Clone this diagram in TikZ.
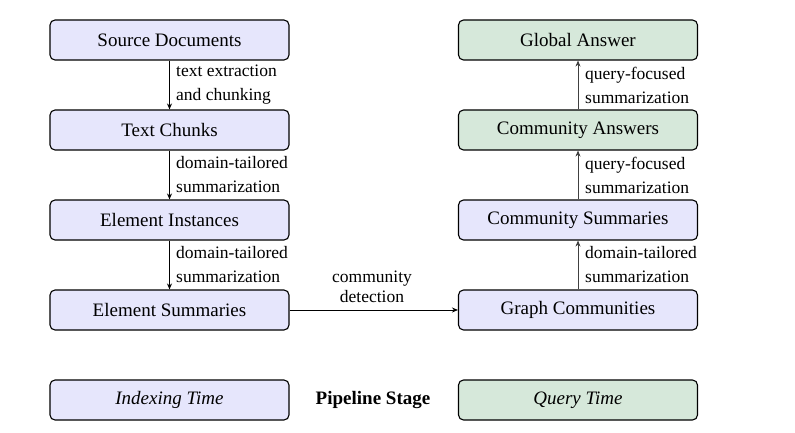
\documentclass[tikz,border=0pt]{standalone}
\usepackage{fontspec}
\setmainfont{Liberation Serif}
\usetikzlibrary{arrows.meta}
\definecolor{lav}{RGB}{230,230,252}
\definecolor{grn}{RGB}{214,232,218}
\tikzset{
  stagebox/.style={draw=black, line width=1.1pt, rounded corners=5pt, minimum width=239pt, minimum height=40pt, inner sep=0pt, font=\fontsize{19}{22}\selectfont},
  idx/.style={stagebox, fill=lav},
  qry/.style={stagebox, fill=grn},
  lbl/.style={font=\fontsize{17.5}{24}\selectfont, align=left, anchor=west, inner sep=0pt},
  downarr/.style={line width=1.2pt, -{Stealth[length=6pt,width=5pt]}},
  uparr/.style={line width=0.8pt, draw=black!75, -{Stealth[length=6pt,width=5pt]}},
}
\begin{document}
\begin{tikzpicture}[x=1pt,y=-1pt]
\useasboundingbox (0,0) rectangle (795,433);
% left column
\node[idx] (sd) at (169.5,40) {Source Documents};
\node[idx] (tc) at (169.5,130) {Text Chunks};
\node[idx] (ei) at (169.5,220) {Element Instances};
\node[idx] (es) at (169.5,310) {Element Summaries};
\node[idx] (it) at (169.5,400) {\itshape Indexing Time};
% right column
\node[qry] (ga) at (578,40) {Global Answer};
\node[qry] (ca) at (578,130) {Community Answers};
\node[idx] (cs) at (578,220) {Community Summaries};
\node[idx] (gc) at (578,310) {Graph Communities};
\node[qry] (qt) at (578,400) {\itshape Query Time};
\node[font=\fontsize{19}{22}\selectfont\bfseries] (ps) at (373,400) {Pipeline Stage};
% down arrows
\draw[downarr] (sd) -- (tc);
\draw[downarr] (tc) -- (ei);
\draw[downarr] (ei) -- (es);
\node[lbl] (l1) at (176,85) {text extraction\\and chunking};
\node[lbl] (l2) at (176,175) {domain-tailored\\summarization};
\node[lbl] (l3) at (176,265) {domain-tailored\\summarization};
% up arrows
\draw[uparr] (gc) -- (cs);
\draw[uparr] (cs) -- (ca);
\draw[uparr] (ca) -- (ga);
\node[lbl] (r1) at (585,85) {query-focused\\summarization};
\node[lbl] (r2) at (585,175) {query-focused\\summarization};
\node[lbl] (r3) at (585,265) {domain-tailored\\summarization};
% horizontal
\draw[downarr, line width=1pt] (es) -- (gc);
\node[font=\fontsize{17.5}{20}\selectfont, align=center] (cd) at (372,287) {community\\detection};
\end{tikzpicture}
\end{document}
